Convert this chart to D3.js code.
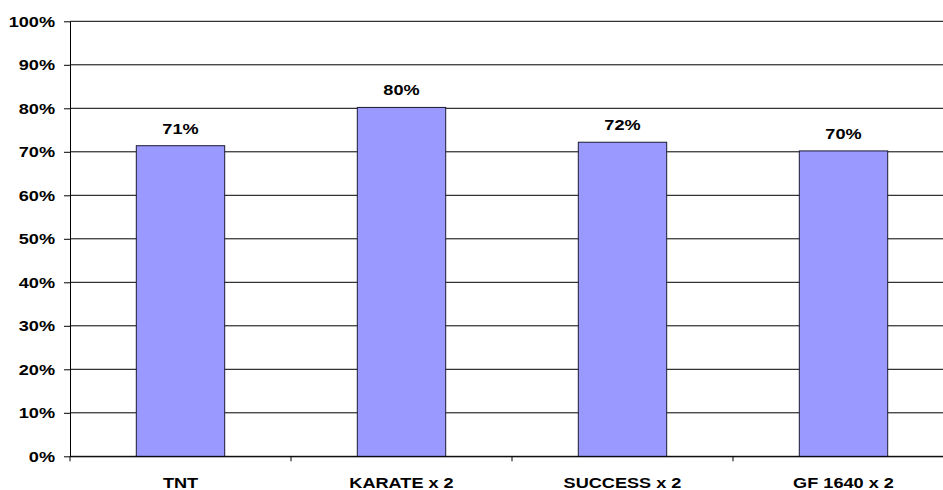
<!DOCTYPE html>
<html>
<head>
<meta charset="utf-8">
<script src="https://cdn.jsdelivr.net/npm/d3@7"></script>
<style>
  html, body { margin: 0; padding: 0; background: #fff; overflow: hidden; }
  text { font-family: "Liberation Sans", Arial, sans-serif; font-weight: bold; }
</style>
</head>
<body>
<svg id="chart" width="943" height="490"></svg>
<script>
const categories = ['TNT', 'KARATE x 2', 'SUCCESS x 2', 'GF 1640 x 2'];
const values = [71.4, 80.2, 72.2, 70.2];
const labels = ['71%', '80%', '72%', '70%'];
const yTicks = [0, 10, 20, 30, 40, 50, 60, 70, 80, 90, 100];

const svg = d3.select('#chart');
const plotLeft = 70, plotRight = 954, plotTop = 21.3, plotBottom = 456.3;
const fontSize = 15.5;
const stretch = 1.17; // the source text is drawn a bit wide

const x = d3.scaleBand()
  .domain(categories)
  .range([plotLeft, plotRight])
  .paddingInner(0.6)
  .paddingOuter(0.3);

const y = d3.scaleLinear()
  .domain([0, 100])
  .range([plotBottom, plotTop]);

// gridlines
svg.append('g')
  .selectAll('line')
  .data(yTicks)
  .enter()
  .append('line')
  .attr('x1', plotLeft)
  .attr('x2', plotRight)
  .attr('y1', d => y(d))
  .attr('y2', d => y(d))
  .attr('stroke', '#000')
  .attr('stroke-width', 1);

// bars
svg.append('g')
  .selectAll('rect')
  .data(values)
  .enter()
  .append('rect')
  .attr('x', (d, i) => x(categories[i]))
  .attr('y', d => y(d))
  .attr('width', x.bandwidth())
  .attr('height', d => plotBottom - y(d))
  .attr('fill', '#9999ff')
  .attr('stroke', '#1a1a33')
  .attr('stroke-width', 1);

// labels on bars
svg.append('g')
  .selectAll('text')
  .data(values)
  .enter()
  .append('text')
  .attr('transform', (d, i) =>
    `translate(${x(categories[i]) + x.bandwidth() / 2},${y(d) - 12}) scale(${stretch},1)`)
  .attr('text-anchor', 'middle')
  .attr('font-size', fontSize)
  .text((d, i) => labels[i]);

// y axis
const yAxis = svg.append('g')
  .attr('transform', `translate(${plotLeft},0)`)
  .call(d3.axisLeft(y).tickValues(yTicks).tickSize(6).tickSizeOuter(0).tickFormat(d => d + '%'));
yAxis.select('.domain').attr('stroke', '#000');
yAxis.selectAll('text')
  .attr('font-size', fontSize)
  .attr('fill', '#000')
  .attr('x', -15 / stretch)
  .attr('transform', `scale(${stretch},1)`);

// x axis
const xAxis = svg.append('g')
  .attr('transform', `translate(0,${plotBottom})`)
  .call(d3.axisBottom(x).tickSize(0).tickSizeOuter(0).tickPadding(21));
xAxis.select('.domain').attr('stroke', '#000');
xAxis.selectAll('text')
  .attr('font-size', fontSize)
  .attr('fill', '#000')
  .attr('transform', `scale(${stretch},1)`);

// category boundary ticks
const step = x.step();
svg.append('g')
  .selectAll('line')
  .data(categories)
  .enter()
  .append('line')
  .attr('x1', d => x(d) - step * 0.3)
  .attr('x2', d => x(d) - step * 0.3)
  .attr('y1', plotBottom)
  .attr('y2', plotBottom + 5)
  .attr('stroke', '#000');
</script>
</body>
</html>
